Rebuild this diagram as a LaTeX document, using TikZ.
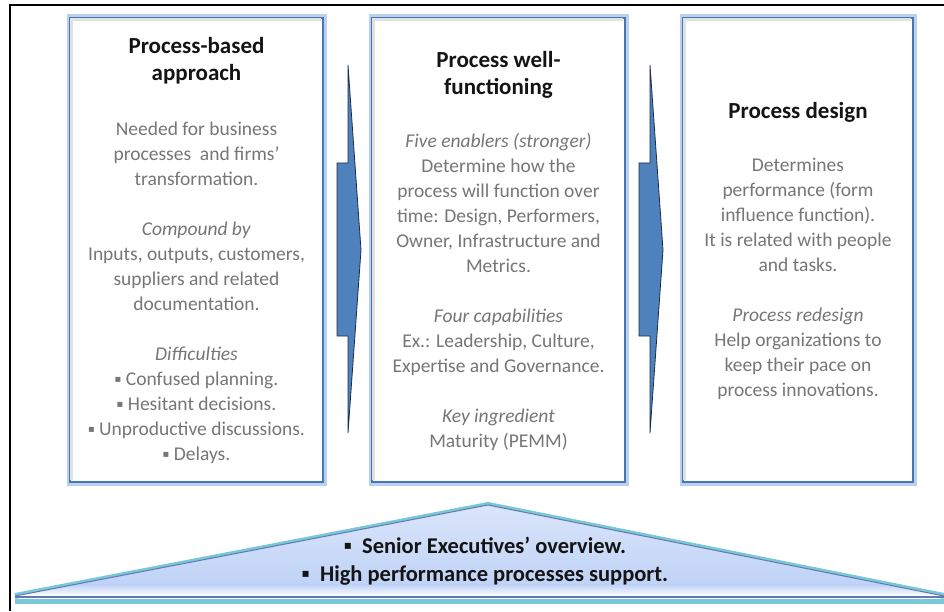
\documentclass[tikz,border=0pt]{standalone}
\usepackage{fontspec}
\setmainfont{Carlito}
\newfontfamily\symfont{DejaVu Sans}

\definecolor{boxline}{RGB}{72,118,180}
\definecolor{boxglow}{RGB}{185,208,238}
\definecolor{boxshade}{RGB}{225,225,225}
\definecolor{arrowfill}{RGB}{79,129,189}
\definecolor{arrowline}{RGB}{25,45,75}
\definecolor{bodygray}{RGB}{118,118,118}
\definecolor{titleblack}{RGB}{20,20,20}
\definecolor{triglow}{RGB}{120,200,215}
\definecolor{triline}{RGB}{100,120,180}
\definecolor{tritop}{RGB}{188,208,246}

% small square bullet
\newcommand\sqb[1][10]{\raisebox{.35ex}{\symfont\fontsize{#1}{#1}\selectfont\char"25AA}\ }

\begin{document}
\begin{tikzpicture}[x=1pt, y=1pt,
  pbox/.style={draw=boxline, line width=2pt, fill=white, minimum height=464,
    preaction={draw=boxglow, line width=7pt}},
  boxtitle/.style={align=center, inner sep=0pt, text=titleblack,
    font=\fontsize{23}{27}\selectfont\bfseries},
  boxbody/.style={align=center, inner sep=0pt, text=bodygray,
    font=\fontsize{19.5}{25}\selectfont},
  flow/.style={fill=arrowfill, draw=arrowline, line width=0.8pt}]

\useasboundingbox (0,0) rectangle (944,611);

% Frame (left and top only)
\draw[line width=2pt] (10,0) -- (10,606) -- (944,606);

% Three boxes
\node[pbox, minimum width=253] (pb) at (196.5,361) {};
\node[pbox, minimum width=253] (pw) at (498.5,361) {};
\node[pbox, minimum width=230] (pd) at (798,361) {};

% Shade along inner top and left edges
\foreach \b in {pb,pw,pd}
  \draw[boxshade, line width=3pt] ([shift={(2.6,3)}]\b.south west) |- ([shift={(-3,-2.6)}]\b.north east);

% Thin arrows between boxes
\foreach \b in {pb,pw}
  \draw[flow, shift={(\b.east)}] (24,185) -- (24,87) -- (13,87) -- (13,-86)
    -- (24,-86) -- (24,-183) -- (37,0) -- cycle;

% Box texts
\node[boxtitle] (pb-title) at (196.5,550) {Process-based\\approach};
\node[boxbody] (pb-text) at (196.5,318) {Needed for business\\
  processes~ and firms'\\transformation.\\[25pt]
  \textit{Compound by}\\Inputs, outputs, customers,\\suppliers and related\\documentation.\\[25pt]
  \textit{Difficulties}\\\sqb Confused planning.\\\sqb Hesitant decisions.\\
  \sqb Unproductive discussions.\\\sqb Delays.};

\node[boxtitle] (pw-title) at (498.5,536) {Process well-\\functioning};
\node[boxbody] (pw-text) at (498.5,319) {\textit{Five enablers (stronger)}\\
  Determine how the\\process will function over\\time: Design, Performers,\\
  Owner, Infrastructure and\\Metrics.\\[25pt]
  \textit{Four capabilities}\\Ex.: Leadership, Culture,\\Expertise and Governance.\\[25pt]
  \textit{Key ingredient}\\Maturity (PEMM)};

\node[boxtitle] (pd-title) at (798,499) {Process design};
\node[boxbody] (pd-text) at (798,332) {Determines\\performance (form\\
  influence function).\\It is related with people\\and tasks.\\[25pt]
  \textit{Process redesign}\\Help organizations to\\keep their pace on\\process innovations.};

% Base triangle
\coordinate (apex) at (488,106);
\coordinate (base-l) at (15,15);
\coordinate (base-r) at (944,15);
\draw[triglow, line width=6pt, line join=round] (base-l) -- (apex) -- (base-r);
\shade[top color=tritop!55!white, bottom color=tritop] (base-l) -- (apex) -- (base-r) -- cycle;
\begin{scope}
  \clip (base-l) -- (apex) -- (base-r) -- cycle;
  \shade[top color=tritop, bottom color=white] (0,15) rectangle (944,27);
\end{scope}
\draw[triline, line width=1pt, line join=round] (base-l) -- (apex) -- (base-r);

% Base bar
\draw[triglow, line width=5pt] (15,10) -- (944,10);
\draw[triline, line width=1.5pt] (15,14) -- (944,14);

\node[align=center, inner sep=0pt, text=titleblack, font=\fontsize{22.5}{28}\selectfont\bfseries]
  (base-text) at (485,50) {\sqb[12] Senior Executives' overview.\\\sqb[12] High performance processes support.};

\end{tikzpicture}
\end{document}
